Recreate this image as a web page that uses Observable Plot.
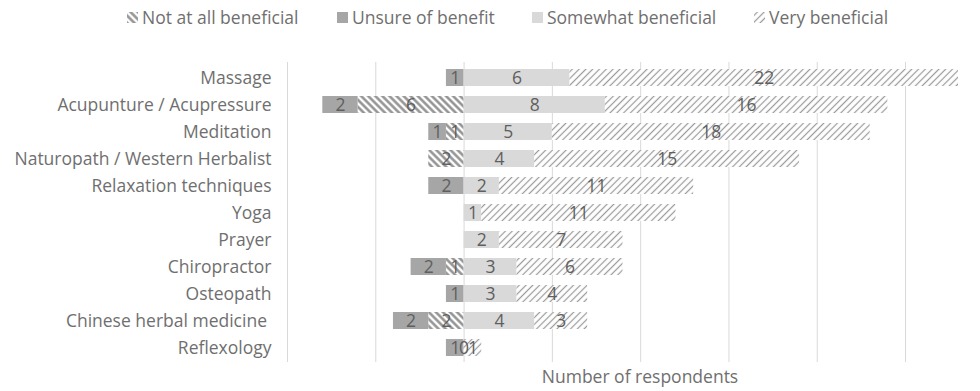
<!DOCTYPE html>
<html>
<head>
<meta charset="utf-8">
<script src="https://cdn.jsdelivr.net/npm/d3@7"></script>
<script src="https://cdn.jsdelivr.net/npm/@observablehq/plot@0.6"></script>
<style>
  body { margin: 0; background: #fff; font-family: "Open Sans", Lato, sans-serif; color: #6f6f6f; }
  #wrap { position: relative; width: 980px; height: 391px; }
  #legend { position: absolute; top: 5px; left: 0; width: 980px; height: 26px; font-size: 17.5px; color: #6f6f6f; }
  #legend .item { position: absolute; top: 0; display: flex; align-items: center; gap: 4px; white-space: nowrap; }
  #xtitle { position: absolute; top: 364px; left: 490px; width: 300px; text-align: center; font-size: 17.5px; color: #6f6f6f; }
</style>
</head>
<body>
<div id="wrap">
  <div id="chart"></div>
  <div id="legend"></div>
  <div id="xtitle">Number of respondents</div>
</div>
<script>
const categories = ["Massage", "Acupunture / Acupressure", "Meditation", "Naturopath / Western Herbalist",
  "Relaxation techniques", "Yoga", "Prayer", "Chiropractor", "Osteopath", "Chinese herbal medicine ", "Reflexology"];
const seriesNames = ["Not at all beneficial", "Unsure of benefit", "Somewhat beneficial", "Very beneficial"];
const notAtAll   = [null, 6, 1, 2, null, null, null, 1, null, 2, 0];
const unsure     = [1, 2, 1, null, 2, null, null, 2, 1, 2, 1];
const somewhat   = [6, 8, 5, 4, 2, 1, 2, 3, 3, 4, null];
const very       = [22, 16, 18, 15, 11, 11, 7, 6, 4, 3, 1];
const xTicks = [-10, -5, 0, 5, 10, 15, 20, 25];

const seriesVals = [notAtAll, unsure, somewhat, very];
const negative = [true, true, false, false];
const fills = ["url(#pNot)", "#a6a6a6", "#d9d9d9", "url(#pVery)"];
const legendLeft = [127, 337, 532, 754];

const rows = [];
categories.forEach((c, i) => {
  seriesVals.forEach((arr, s) => {
    const v = arr[i];
    if (v != null) rows.push({cat: c, series: seriesNames[s], value: negative[s] ? -v : v, label: String(v)});
  });
});

const font = "'Open Sans', Lato, sans-serif";
const svg = Plot.plot({
  width: 980,
  height: 391,
  marginTop: 62,
  marginBottom: 29,
  marginLeft: 287,
  marginRight: 22,
  style: {fontFamily: font, fontSize: "17.5px", color: "#6f6f6f", background: "#fff"},
  x: {domain: [-10, 28], axis: null},
  y: {domain: categories, paddingInner: 0.375, paddingOuter: 0.1875, label: null, tickSize: 0, tickPadding: 16},
  color: {domain: seriesNames, range: fills},
  marks: [
    Plot.gridX(xTicks, {stroke: "#d9d9d9", strokeOpacity: 1, strokeWidth: 1}),
    Plot.barX(rows, Plot.stackX({x: "value", y: "cat", fill: "series"})),
    Plot.text(rows, Plot.stackX({x: "value", y: "cat", text: "label", fill: "#5f5f5f", fontSize: 17.5}))
  ]
});

const defs = d3.select(svg).insert("defs", ":first-child");
function pattern(id, size, angle, color, w) {
  const p = defs.append("pattern").attr("id", id).attr("patternUnits", "userSpaceOnUse")
    .attr("width", size).attr("height", size).attr("patternTransform", `rotate(${angle})`);
  p.append("rect").attr("width", size).attr("height", size).attr("fill", "#fff");
  p.append("line").attr("x1", size / 2).attr("x2", size / 2).attr("y1", 0).attr("y2", size)
    .attr("stroke", color).attr("stroke-width", w);
}
pattern("pNot", 5, -45, "#8c8c8c", 2.4);
pattern("pVery", 4.8, 45, "#9a9a9a", 1.2);

document.getElementById("chart").appendChild(svg);

const legend = d3.select("#legend");
seriesNames.forEach((name, i) => {
  const it = legend.append("div").attr("class", "item").style("left", legendLeft[i] + "px");
  const sw = it.append("svg").attr("width", 11).attr("height", 11);
  sw.append("rect").attr("width", 11).attr("height", 11).attr("fill", fills[i]);
  it.append("span").text(name);
});
</script>
</body>
</html>
